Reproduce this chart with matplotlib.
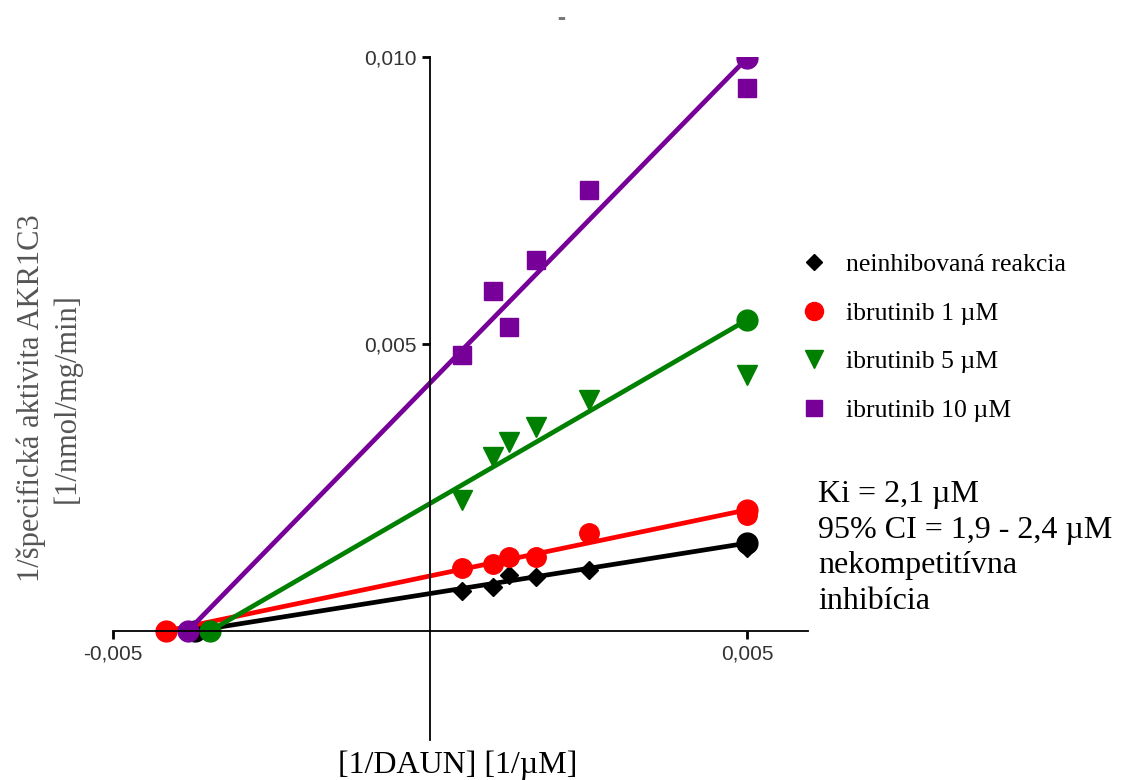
import matplotlib
matplotlib.use("Agg")
import matplotlib.pyplot as plt
from matplotlib.lines import Line2D
from matplotlib.ticker import FuncFormatter

# 1/[DAUN] values (1/uM)
x = [0.0005, 0.001, 0.00125, 0.00167, 0.0025, 0.005]

# 1/specific activity for each condition
y_ctrl = [0.00070, 0.00076, 0.00098, 0.00094, 0.00107, 0.00145]
y_ib1 = [0.00110, 0.00116, 0.00129, 0.00129, 0.00171, 0.00202]
y_ib5 = [0.00228, 0.00303, 0.00329, 0.00355, 0.00402, 0.00446]
y_ib10 = [0.00481, 0.00592, 0.00530, 0.00646, 0.00768, 0.00946]

# fitted lines: x-intercept and value at x = 0.005
fit_x0 = [-0.00371, -0.00416, -0.00347, -0.00382]
fit_y1 = [0.00153, 0.00211, 0.00542, 0.00998]

labels = ["neinhibovaná reakcia", "ibrutinib 1 \u00b5M", "ibrutinib 5 \u00b5M", "ibrutinib 10 \u00b5M"]
colors = ["black", "#ff0000", "#008000", "#770099"]
markers = ["D", "o", "v", "s"]
msizes = [9, 14, 14, 13]
series = [y_ctrl, y_ib1, y_ib5, y_ib10]

serif = ["Liberation Serif", "DejaVu Serif"]

fig = plt.figure(figsize=(11.25, 7.8), dpi=100)
ax = fig.add_axes([113/1125, 1 - 740/780, (808-113)/1125, (740-57)/780])

# lines first, then the points on top
for i in [0, 1, 2, 3]:
    ax.plot([fit_x0[i], 0.005], [0, fit_y1[i]], color=colors[i], lw=3.4,
            marker="o", markersize=15, zorder=2, solid_capstyle="round")
for i in [0, 1, 2, 3]:
    ax.plot(x, series[i], linestyle="none", marker=markers[i], markersize=msizes[i],
            color=colors[i], zorder=3)

ax.set_xlim(-0.005, 0.00596)
ax.set_ylim(-0.0019, 0.0100)
ax.spines["left"].set_position(("data", 0))
ax.spines["bottom"].set_position(("data", 0))
ax.spines["right"].set_visible(False)
ax.spines["top"].set_visible(False)
ax.spines["left"].set_linewidth(1.3)
ax.spines["bottom"].set_linewidth(1.3)

ax.set_xticks([-0.005, 0.005])
ax.set_yticks([0.005, 0.010])
fmt = FuncFormatter(lambda v, p: ("%.3f" % v).replace(".", ","))
ax.xaxis.set_major_formatter(fmt)
ax.yaxis.set_major_formatter(fmt)
ax.tick_params(axis="both", length=6, width=2, labelsize=15, labelcolor="#333333", pad=4)
for t in ax.get_xticklabels() + ax.get_yticklabels():
    t.set_family(["Liberation Sans", "DejaVu Sans"])

# axis labels
fig.text(458/1125, 1 - 765/780, "[1/DAUN] [1/\u00b5M]", ha="center", va="center",
         fontsize=23, family=serif)
fig.text(49/1125, 1 - 398/780, "1/špecifická aktivita AKR1C3\n[1/nmol/mg/min]",
         ha="center", va="center", rotation=90, fontsize=22, color="#555555",
         family=serif, linespacing=1.3)

# small gray title mark
fig.text(561/1125, 1 - 18/780, "\u25ac", ha="center", va="center", fontsize=6,
         color="#777777")

handles = [Line2D([], [], linestyle="none", marker=markers[i], markersize=msizes[i] - 1,
                  color=colors[i]) for i in range(4)]
leg = fig.legend(handles, labels, loc="upper left", bbox_to_anchor=(778/1125, 1 - 230/780),
                 frameon=False, prop={"family": serif, "size": 18.5}, labelspacing=1.0,
                 handletextpad=0.75, handlelength=1.0)

fig.text(818/1125, 1 - 480/780,
         "Ki = 2,1 \u00b5M\n95% CI = 1,9 - 2,4 \u00b5M\nnekompetitívna\ninhibícia",
         ha="left", va="top", fontsize=23, family=serif, linespacing=1.3)

fig.savefig("out.png", dpi=100)
